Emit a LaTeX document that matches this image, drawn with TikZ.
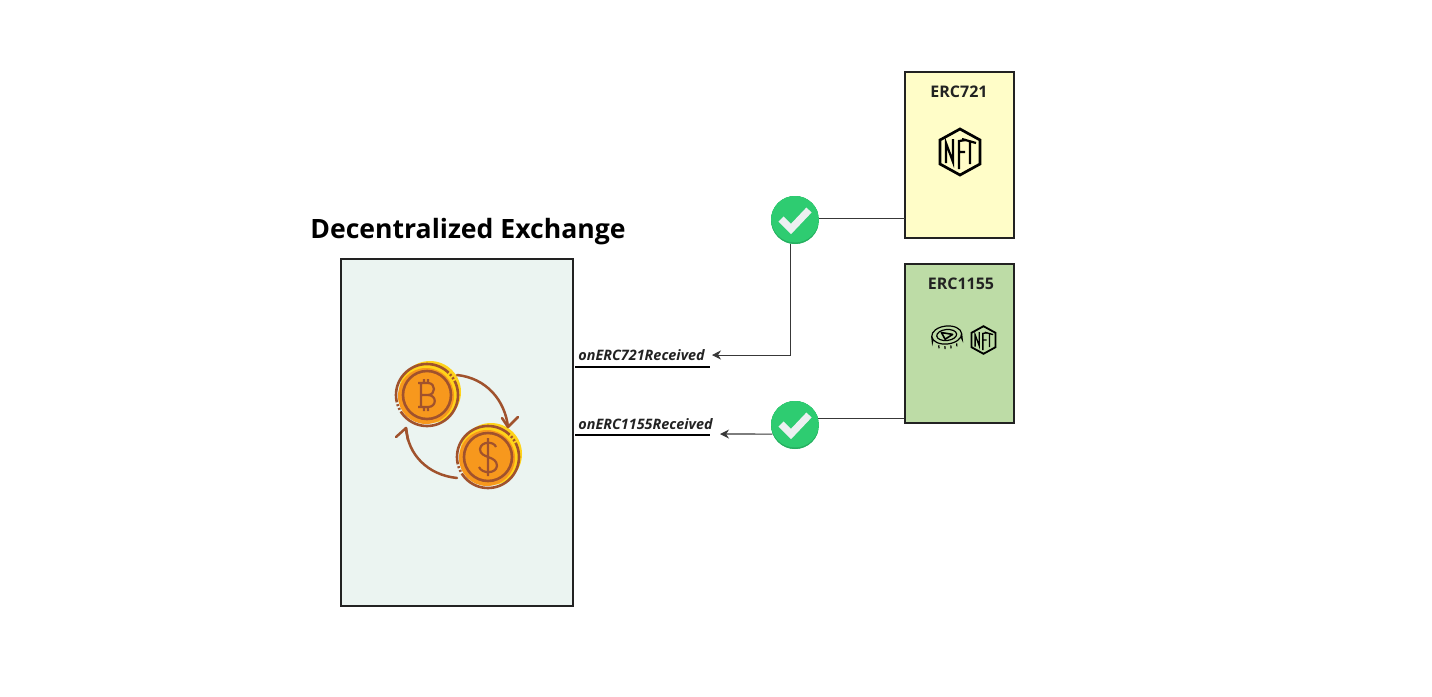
\documentclass[tikz,border=0pt]{standalone}
\usepackage{fontspec}
\setmainfont{Open Sans}
\usetikzlibrary{arrows.meta}
\definecolor{edge}{HTML}{222222}
\definecolor{dexfill}{HTML}{EBF4F1}
\definecolor{yel}{HTML}{FFFDC8}
\definecolor{grn}{HTML}{BDDCA6}
\definecolor{okgreen}{HTML}{2ECC71}
\definecolor{okdark}{HTML}{27AE60}
\definecolor{okwhite}{HTML}{ECF0F1}
\definecolor{coinyel}{HTML}{FFD31A}
\definecolor{coinor}{HTML}{F7981D}
\definecolor{coinbr}{HTML}{A0522D}
\tikzset{
  x=0.5pt,y=-0.5pt,
  panel/.style={draw=edge,line width=1.3pt,inner sep=0pt},
  title/.style={font=\bfseries\fontsize{13.3}{16}\selectfont,text=black,inner sep=0pt},
  boxlabel/.style={font=\bfseries\fontsize{8}{9}\selectfont,text=edge,inner sep=0pt},
  fnlabel/.style={font=\bfseries\itshape\fontsize{7.2}{8}\selectfont,text=edge,inner sep=0pt,anchor=west},
  okdisc/.style={circle,fill=okgreen,minimum size=24pt,inner sep=0pt},
  wire/.style={draw=edge!90,line width=0.45pt},
  arrowwire/.style={wire,-{Stealth[length=4.5pt,width=4.5pt]}},
  rule/.style={draw=black,line width=0.8pt},
  coinline/.style={draw=coinbr,line width=1.3pt},
  turn/.style={draw=coinbr,line width=1.25pt,line cap=round,line join=round},
}
\newcommand{\okmark}[2]{%
  \begin{scope}[shift={(#1,#2)}]
    \begin{scope}
      \clip (0,0) circle (24);
      \fill[okdark] (-24,-24) rectangle (24,24);
      \fill[okgreen] (0,-1.5) circle (24);
    \end{scope}
    \draw[okwhite,line width=3.6pt,line join=miter] (-14,-1) -- (-4,9) -- (14,-10);
  \end{scope}}
\newcommand{\nftbadge}[3]{%
  \begin{scope}[shift={(#1,#2)},scale=#3,black,line join=miter]
    \draw[line width=1.1pt*#3+0.25pt] (0,-23) -- (20,-12) -- (20,12) -- (0,23) -- (-20,12) -- (-20,-12) -- cycle;
    \draw[line width=1.1pt*#3] (-14,11) -- (-14,-9) -- (-7,10) -- (-7,-13);
    \draw[line width=1.1pt*#3] (-1,17) -- (-1,-11) -- (6,-12) (-1,0) -- (5,0);
    \draw[line width=1.1pt*#3] (2,-13) -- (16,-9) (10,-11) -- (10,12);
  \end{scope}}
\newcommand{\coinbase}[2]{%
  \fill[coinyel] (#1+3,#2-3) circle (31);
  \fill[coinor] (#1-1,#2+1) circle (28);
  \draw[coinline] (#1,#2) circle (24);
  \draw[coinline,dash pattern=on 40pt off 1pt on 1pt off 1pt on 1pt off 1pt] (#1,#2) circle (31);
}
\begin{document}
\begin{tikzpicture}
\useasboundingbox (0,0) rectangle (1432,697);
\fill[white] (0,0) rectangle (1432,697);

\node[title] (title) at (468,232) {Decentralized Exchange};

\path[panel,fill=dexfill] (341,259) rectangle (573,606);

\node[panel,fill=yel,minimum width=54.5pt,minimum height=83pt] (erc721) at (959.5,155) {};
\node[panel,fill=grn,minimum width=54.5pt,minimum height=79.5pt] (erc1155) at (959.5,343.5) {};
\node[boxlabel] (l721) at (959,92) {ERC721};
\node[boxlabel] (l1155) at (961,284) {ERC1155};

\nftbadge{960}{152}{1}
\nftbadge{983.5}{340}{0.6}

% token coin
\begin{scope}[shift={(947,338)},rotate=6,line width=0.6pt,black]
  \draw[fill=grn] (-15,-3) -- (-15,3) arc[start angle=180,end angle=360,x radius=15,y radius=9] -- (15,-3);
  \draw[fill=grn] (0,-3) ellipse[x radius=15,y radius=9];
  \draw (0,-3) ellipse[x radius=10,y radius=5.5];
  \draw[line width=0.8pt,line join=round] (-5,-6) -- (6,-3) -- (-2,1) -- cycle;
  \foreach \a in {-9,-3,3,9} \draw (\a,6-0.02*\a*\a+2) -- (\a,11-0.02*\a*\a);
\end{scope}

\node[okdisc] (chk1) at (795,220) {};
\node[okdisc] (chk2) at (795,425) {};
\okmark{795}{220}
\okmark{795}{425}

\node[fnlabel] (fn721) at (578,355.5) {onERC721Received};
\node[fnlabel] (fn1155) at (578,424) {onERC1155Received};
\coordinate (r1a) at (575,367); \coordinate (r1b) at (710,367);
\coordinate (r2a) at (575,435); \coordinate (r2b) at (710,435);
\draw[rule] (r1a) -- (r1b);
\draw[rule] (r2a) -- (r2b);

\coordinate (tip1) at (712,355);
\coordinate (tip2) at (720,434);
\draw[wire] (chk1.5) ++(0,1) -- ++(86,0);
\draw[wire] (chk2.17) ++(0,1) -- ++(86,0);
\draw[arrowwire] (chk1.258) ++(0.5,0) |- (tip1);
\draw[arrowwire,line width=0.6pt] (chk2.202) -- (tip2);

\coinbase{427}{395}
\coinbase{488}{457}
\begin{scope}[coinbr,line width=1.1pt,line join=round]
  \draw (421,383) -- (421,407) (421,383) -- (428,383) .. controls (436,383) and (436,395) .. (428,395) -- (421,395)
        (428,395) .. controls (437,395) and (437,407) .. (428,407) -- (418,407) (418,383) -- (421,383)
        (424,379) -- (424,383) (428,379) -- (428,383) (424,407) -- (424,411) (428,407) -- (428,411);
  \draw (496,447) .. controls (494,441) and (481,441) .. (480,449) .. controls (480,459) and (497,455) .. (497,466)
        .. controls (496,474) and (482,474) .. (479,467) (488,438) -- (488,476);
\end{scope}
\draw[turn] (457,375) .. controls (486,378) and (505,400) .. (508,427);
\draw[turn] (518,417) -- (508,427) -- (502,418);
\draw[turn] (457,478) .. controls (428,475) and (408,455) .. (406,428);
\draw[turn] (396,437) -- (406,428) -- (408,440);
\end{tikzpicture}
\end{document}
